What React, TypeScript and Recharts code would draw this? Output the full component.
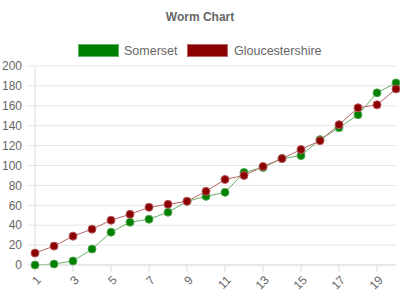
import React from 'react';
import { LineChart, Line, XAxis, YAxis, CartesianGrid } from 'recharts';

const rounds = [1, 2, 3, 4, 5, 6, 7, 8, 9, 10, 11, 12, 13, 14, 15, 16, 17, 18, 19, 20];
const somerset = [0, 1, 4, 16, 33, 43, 46, 53, 64, 69, 73, 93, 98, 107, 110, 126, 138, 151, 173, 183];
const gloucestershire = [12, 19, 29, 36, 45, 51, 58, 61, 64, 74, 86, 90, 99, 107, 116, 125, 141, 158, 161, 177];
const yTicks = [0, 20, 40, 60, 80, 100, 120, 140, 160, 180, 200];

const data = rounds.map((r, i) => ({ round: String(r), somerset: somerset[i], gloucestershire: gloucestershire[i] }));

const FONT = 'Arial, "Liberation Sans", Helvetica, sans-serif';

const XTick = (props: any) => {
  const { x, y, payload } = props;
  return (
    <text
      x={x + 4}
      y={y + 4}
      transform={`rotate(-45 ${x + 4} ${y + 4})`}
      textAnchor="end"
      dominantBaseline="central"
      fontSize={12}
      fontFamily={FONT}
      fill="#666"
    >
      {payload.value}
    </text>
  );
};

const Header = () => (
  <g>
    <text x={200} y={21} textAnchor="middle" fontSize={12} fontWeight="bold" fontFamily={FONT} fill="#666">
      Worm Chart
    </text>
    <rect x={78.5} y={44.5} width={40} height={12} fill="#008000" stroke="#66b366" strokeWidth={1} />
    <text x={124} y={55} fontSize={12.5} fontFamily={FONT} fill="#666">Somerset</text>
    <rect x={187.5} y={44.5} width={40} height={12} fill="#8b0000" stroke="#b96666" strokeWidth={1} />
    <text x={234} y={55} fontSize={12.5} fontFamily={FONT} fill="#666">Gloucestershire</text>
  </g>
);

export default function App() {
  return (
    <div style={{ position: 'absolute', left: 0, top: 0 }}>
      <svg width={400} height={300} style={{ position: 'absolute', left: 0, top: 0, pointerEvents: 'none' }}>
        <Header />
      </svg>
      <LineChart width={400} height={300} data={data} margin={{ top: 66, right: 4, bottom: 0, left: 0 }}>
        <CartesianGrid vertical={false} stroke="#e5e5e5" />
        <XAxis
          dataKey="round"
          interval={1}
          height={35}
          tickSize={7}
          stroke="#ddd"
          tickLine={{ stroke: '#ddd' }}
          axisLine={{ stroke: '#ddd' }}
          tick={<XTick />}
        />
        <YAxis
          width={35}
          domain={[0, 200]}
          ticks={yTicks}
          interval={0}
          tickSize={8}
          tickMargin={5}
          axisLine={{ stroke: '#ddd' }}
          tickLine={{ stroke: '#e5e5e5' }}
          tick={{ fill: '#666', fontSize: 12, fontFamily: FONT }}
        />
        <Line
          type="linear"
          dataKey="somerset"
          stroke="#66b366"
          strokeWidth={1}
          dot={{ r: 4, fill: '#008000', stroke: '#55aa55', strokeWidth: 1 }}
          isAnimationActive={false}
        />
        <Line
          type="linear"
          dataKey="gloucestershire"
          stroke="#b96666"
          strokeWidth={1}
          dot={{ r: 4, fill: '#8b0000', stroke: '#b55a5a', strokeWidth: 1 }}
          isAnimationActive={false}
        />
      </LineChart>
    </div>
  );
}
